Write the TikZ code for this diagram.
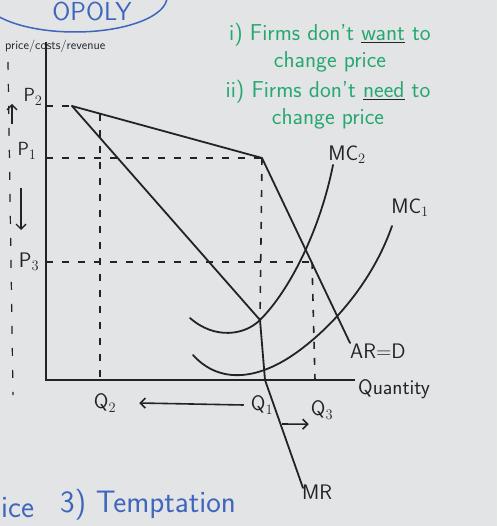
\documentclass[tikz,border=0pt]{standalone}
\usepackage{tikz}
\usetikzlibrary{arrows.meta,calc}
\definecolor{board}{RGB}{226,228,229}
\definecolor{ink}{RGB}{35,35,38}
\definecolor{marker}{RGB}{38,168,112}
\definecolor{bluepen}{RGB}{62,102,188}
\tikzset{
  axis/.style={ink, line width=2pt},
  curve/.style={ink, line width=1.8pt, line cap=round, line join=round},
  guide/.style={ink, line width=1.6pt, dash pattern=on 7pt off 9pt},
  arr/.style={-{Straight Barb[length=5pt,width=10pt]}, ink, line width=1.6pt},
  lbl/.style={font=\sffamily\fontsize{21}{23}\selectfont, text=ink, inner sep=1pt},
  note/.style={font=\sffamily\fontsize{23}{27}\selectfont, text=marker, align=center, inner sep=0pt},
  bluenote/.style={font=\sffamily\fontsize{31}{33}\selectfont, text=bluepen, inner sep=0pt},
}
\newcommand{\ul}[1]{{\color{ink}\underline{\textcolor{marker}{#1}}}}
\begin{document}
\begin{tikzpicture}[x=1pt,y=-1pt]
\useasboundingbox (0,0) rectangle (497,526);
\clip (0,0) rectangle (497,526);
\fill[board] (0,0) rectangle (497,526);

% title cloud
\draw[bluepen, line width=1.5pt] (75,-3) ellipse (92 and 35);
\node[bluenote, font=\sffamily\fontsize{26}{28}\selectfont, anchor=north] (title) at (92,2) {OPOLY};

% axes
\coordinate (O) at (46,380);
\coordinate (ytop) at (46,42);
\coordinate (xend) at (355,380);
\draw[axis] (ytop) -- (O) -- (xend);
\node[lbl, anchor=west, font=\sffamily\fontsize{12.5}{14}\selectfont] (ylab) at (4,46) {price/costs/revenue};
\node[lbl, anchor=west] (qlab) at (357,389) {Quantity};

% kinked demand and MR
\coordinate (dtop) at (72,106);
\coordinate (kink) at (262,158);
\coordinate (dend) at (350,343);
\draw[curve] (dtop) -- (kink) -- (dend);
\node[lbl, anchor=north west] (ard) at (349,343) {AR=D};
\coordinate (mrgap) at (260,320);
\coordinate (mrfoot) at (265,380);
\coordinate (mrend) at (303,488);
\draw[curve] (dtop) -- (mrgap) -- (mrfoot) -- (mrend);
\node[lbl, anchor=west] (mr) at (301,492) {MR};

% cost curves
\draw[curve] (190,318) .. controls (215,340) and (245,335) .. (mrgap)
  .. controls (290,290) and (320,230) .. (333,165);
\node[lbl] (mc2) at (347,155) {MC$_2$};
\draw[curve] (193,355) .. controls (220,385) and (260,380) .. (300,350)
  .. controls (340,320) and (375,275) .. (392,226);
\node[lbl] (mc1) at (410,208) {MC$_1$};

% price and quantity guides
\coordinate (p2) at (46,106);
\coordinate (p1) at (46,158);
\coordinate (p3) at (46,262);
\coordinate (q2top) at (100,114);
\coordinate (q2) at (100,380);
\coordinate (q3top) at (312,262);
\coordinate (q3) at (315,380);
\draw[guide] (p2) -- (dtop);
\draw[guide] (p1) -- (kink);
\draw[guide] (p3) -- (q3top);
\draw[guide] (q2top) -- (q2);
\draw[guide] (kink) -- (mrgap);
\draw[guide] (q3top) -- (q3);
\node[lbl, font=\sffamily\fontsize{19}{21}\selectfont] (lp2) at (33,97) {P$_2$};
\node[lbl, font=\sffamily\fontsize{19}{21}\selectfont] (lp1) at (27,151) {P$_1$};
\node[lbl] (lp3) at (29,262) {P$_3$};
\node[lbl] (lq2) at (105,403) {Q$_2$};
\node[lbl] (lq1) at (262,405) {Q$_1$};
\node[lbl] (lq3) at (322,410) {Q$_3$};
\draw[arr] ([xshift=-6pt]lq1.west) -- ([xshift=22pt]lq2.east);
\coordinate (mrtick) at (282,424);
\draw[arr] (mrtick) -- ([xshift=-1pt,yshift=-4pt]lq3.south west);

% margin marks
\draw[ink, line width=1.2pt, dash pattern=on 8pt off 14pt] (8,62) -- (13,395);
\draw[arr, line width=1.3pt] (12,124) -- (12,104);
\draw[arr, line width=1.3pt] (21,188) -- (21,230);

% notes
\node[note] (want) at (330,48) {i) Firms don't \ul{want} to\\change price};
\node[note] (need) at (328,105) {ii) Firms don't \ul{need} to\\change price};
\node[bluenote, anchor=west] (tail) at (1,508) {ice};
\node[bluenote, anchor=west] (tempt) at (60,505) {3) Temptation};
\end{tikzpicture}
\end{document}
